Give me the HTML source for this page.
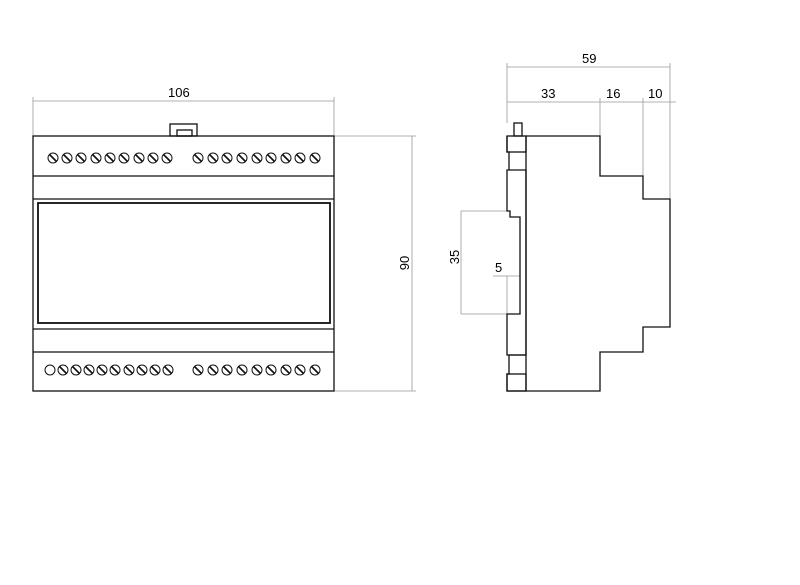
<!DOCTYPE html>
<html><head><style>body{margin:0;background:#fff}svg{display:block}text{font-family:"Liberation Sans",sans-serif;font-size:13px;fill:#000}</style></head>
<body>
<svg width="800" height="585" viewBox="0 0 800 585">
<g stroke="#999" stroke-width="0.8" fill="none">
<line x1="33" y1="101" x2="334" y2="101"/>
<line x1="33" y1="97" x2="33" y2="136"/><line x1="334" y1="97" x2="334" y2="136"/>
<line x1="412" y1="136" x2="412" y2="391"/>
<line x1="334" y1="136" x2="416" y2="136"/><line x1="334" y1="391" x2="416" y2="391"/>
<line x1="507" y1="67" x2="670" y2="67"/>
<line x1="507" y1="102" x2="676" y2="102"/>
<line x1="507" y1="63" x2="507" y2="123"/><line x1="670" y1="63" x2="670" y2="199"/>
<line x1="600" y1="98" x2="600" y2="176"/><line x1="643" y1="98" x2="643" y2="176"/>
<line x1="461" y1="211" x2="461" y2="314"/>
<line x1="461" y1="211" x2="510" y2="211"/><line x1="461" y1="314" x2="507" y2="314"/>
<line x1="493" y1="276" x2="520" y2="276"/><line x1="507" y1="276" x2="507" y2="314"/>
</g>
<text x="168" y="97">106</text>
<text transform="translate(409,263) rotate(-90)" text-anchor="middle">90</text>
<text x="582" y="63">59</text>
<text x="541" y="98">33</text>
<text x="606" y="98">16</text>
<text x="648" y="98">10</text>
<text transform="translate(459,257) rotate(-90)" text-anchor="middle">35</text>
<text x="495" y="272">5</text>
<g stroke="#111" stroke-width="1.3" fill="none">
<rect x="33" y="136" width="301" height="255"/>
<line x1="33" y1="176" x2="334" y2="176"/><line x1="33" y1="199" x2="334" y2="199"/>
<line x1="33" y1="329" x2="334" y2="329"/><line x1="33" y1="352" x2="334" y2="352"/>
<rect x="38" y="203" width="292" height="120" stroke-width="1.8"/>
<rect x="170" y="124" width="27" height="12"/><rect x="177" y="130" width="15" height="6"/>
<path d="M526,136 H600 V176 H643 V199 H670 V327 H643 V352 H600 V391 H507 V374 L509,374 V355 H526"/>
<path d="M507,136 V152 H509 V170 H507 V211 H510 V217 H520 V314 H507 V355 H526 V170 H507"/>
<rect x="507" y="136" width="19" height="16"/>
<rect x="507" y="374" width="19" height="17"/>
<line x1="526" y1="136" x2="526" y2="391"/>
<rect x="514" y="123" width="8" height="13"/>
</g>
<g stroke="#111" stroke-width="1" fill="none">
<circle cx="53" cy="158" r="5"/><circle cx="67" cy="158" r="5"/><circle cx="81" cy="158" r="5"/><circle cx="96" cy="158" r="5"/><circle cx="110" cy="158" r="5"/><circle cx="124" cy="158" r="5"/><circle cx="139" cy="158" r="5"/><circle cx="153" cy="158" r="5"/><circle cx="167" cy="158" r="5"/>
<circle cx="198" cy="158" r="5"/><circle cx="213" cy="158" r="5"/><circle cx="227" cy="158" r="5"/><circle cx="242" cy="158" r="5"/><circle cx="257" cy="158" r="5"/><circle cx="271" cy="158" r="5"/><circle cx="286" cy="158" r="5"/><circle cx="300" cy="158" r="5"/><circle cx="315" cy="158" r="5"/>
<path stroke-width="1.6" d="M49.5,154.5l7,7M63.5,154.5l7,7M77.5,154.5l7,7M92.5,154.5l7,7M106.5,154.5l7,7M120.5,154.5l7,7M135.5,154.5l7,7M149.5,154.5l7,7M163.5,154.5l7,7M194.5,154.5l7,7M209.5,154.5l7,7M223.5,154.5l7,7M238.5,154.5l7,7M253.5,154.5l7,7M267.5,154.5l7,7M282.5,154.5l7,7M296.5,154.5l7,7M311.5,154.5l7,7"/>
<circle cx="50" cy="370" r="5"/>
<circle cx="63" cy="370" r="5"/><circle cx="76" cy="370" r="5"/><circle cx="89" cy="370" r="5"/><circle cx="102" cy="370" r="5"/><circle cx="115" cy="370" r="5"/><circle cx="129" cy="370" r="5"/><circle cx="142" cy="370" r="5"/><circle cx="155" cy="370" r="5"/><circle cx="168" cy="370" r="5"/>
<circle cx="198" cy="370" r="5"/><circle cx="213" cy="370" r="5"/><circle cx="227" cy="370" r="5"/><circle cx="242" cy="370" r="5"/><circle cx="257" cy="370" r="5"/><circle cx="271" cy="370" r="5"/><circle cx="286" cy="370" r="5"/><circle cx="300" cy="370" r="5"/><circle cx="315" cy="370" r="5"/>
<path stroke-width="1.6" d="M59.5,366.5l7,7M72.5,366.5l7,7M85.5,366.5l7,7M98.5,366.5l7,7M111.5,366.5l7,7M125.5,366.5l7,7M138.5,366.5l7,7M151.5,366.5l7,7M164.5,366.5l7,7M194.5,366.5l7,7M209.5,366.5l7,7M223.5,366.5l7,7M238.5,366.5l7,7M253.5,366.5l7,7M267.5,366.5l7,7M282.5,366.5l7,7M296.5,366.5l7,7M311.5,366.5l7,7"/>
</g>
</svg>
</body></html>
